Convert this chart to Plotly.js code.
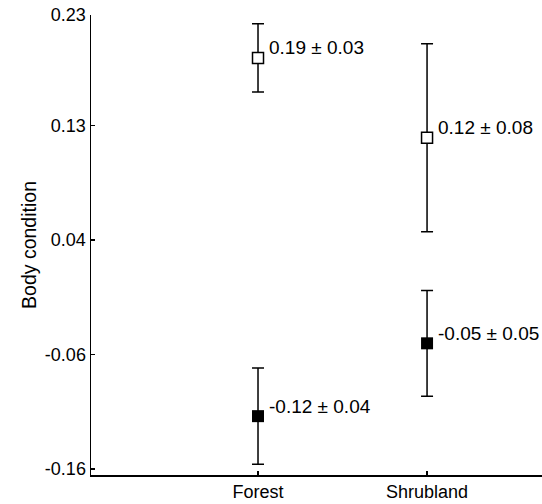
<!DOCTYPE html>
<html>
<head>
<meta charset="utf-8">
<script src="https://cdn.plot.ly/plotly-3.0.1.min.js"></script>
<style>html,body{margin:0;padding:0;background:#fff;}#chart{width:542px;height:504px;}</style>
</head>
<body>
<div id="chart"></div>
<script>
// Data
const categories = ['Forest', 'Shrubland'];
const openMeans = [0.19, 0.122];
const openErrors = [0.029, 0.080];
const openLabels = ['0.19 ± 0.03', '0.12 ± 0.08'];
const filledMeans = [-0.115, -0.053];
const filledErrors = [0.041, 0.045];
const filledLabels = ['-0.12 ± 0.04', '-0.05 ± 0.05'];
const yTickVals = [-0.16, -0.0625, 0.035, 0.1325, 0.2265];
const yTickText = ['-0.16', '-0.06', '0.04', '0.13', '0.23'];

const font = {family: 'Liberation Sans, Arial, sans-serif', size: 18, color: '#000'};
const annFont = {family: 'Liberation Sans, Arial, sans-serif', size: 19, color: '#000'};
const titleFont = {family: 'Liberation Sans, Arial, sans-serif', size: 19.5, color: '#000'};

const errStyle = {type: 'data', visible: true, color: '#000', thickness: 1.5, width: 6};

const traces = [
  {
    x: categories, y: openMeans, type: 'scatter', mode: 'markers',
    error_y: Object.assign({array: openErrors}, errStyle),
    marker: {symbol: 'square', size: 11, color: '#fff', line: {color: '#000', width: 1.5}},
    showlegend: false, hoverinfo: 'none'
  },
  {
    x: categories, y: filledMeans, type: 'scatter', mode: 'markers',
    error_y: Object.assign({array: filledErrors}, errStyle),
    marker: {symbol: 'square', size: 12, color: '#000', line: {color: '#000', width: 0}},
    showlegend: false, hoverinfo: 'none'
  }
];

const annotations = [];
categories.forEach((c, i) => {
  annotations.push({x: c, y: openMeans[i], text: openLabels[i], showarrow: false,
    xanchor: 'left', yanchor: 'middle', xshift: 9, yshift: 10, font: annFont});
  annotations.push({x: c, y: filledMeans[i], text: filledLabels[i], showarrow: false,
    xanchor: 'left', yanchor: 'middle', xshift: 9, yshift: 10, font: annFont});
});

const layout = {
  width: 542, height: 504,
  margin: {l: 91, r: 0, t: 15, b: 29, pad: 0},
  paper_bgcolor: '#fff', plot_bgcolor: '#fff',
  font: font,
  showlegend: false,
  xaxis: {
    type: 'category', range: [-0.988, 1.68],
    showgrid: false, zeroline: false,
    showline: true, linecolor: '#000', linewidth: 1.5,
    ticks: 'inside', ticklen: 4, tickwidth: 1.5, tickcolor: '#000',
    tickfont: font
  },
  yaxis: {
    range: [-0.1651, 0.2265],
    tickmode: 'array', tickvals: yTickVals, ticktext: yTickText,
    showgrid: false, zeroline: false,
    showline: true, linecolor: '#000', linewidth: 1.5,
    ticks: 'inside', ticklen: 4, tickwidth: 1.5, tickcolor: '#000',
    tickfont: font,
    title: {text: 'Body condition', font: titleFont, standoff: 3}
  },
  annotations: annotations
};

Plotly.newPlot('chart', traces, layout, {displayModeBar: false, staticPlot: true});
</script>
</body>
</html>
